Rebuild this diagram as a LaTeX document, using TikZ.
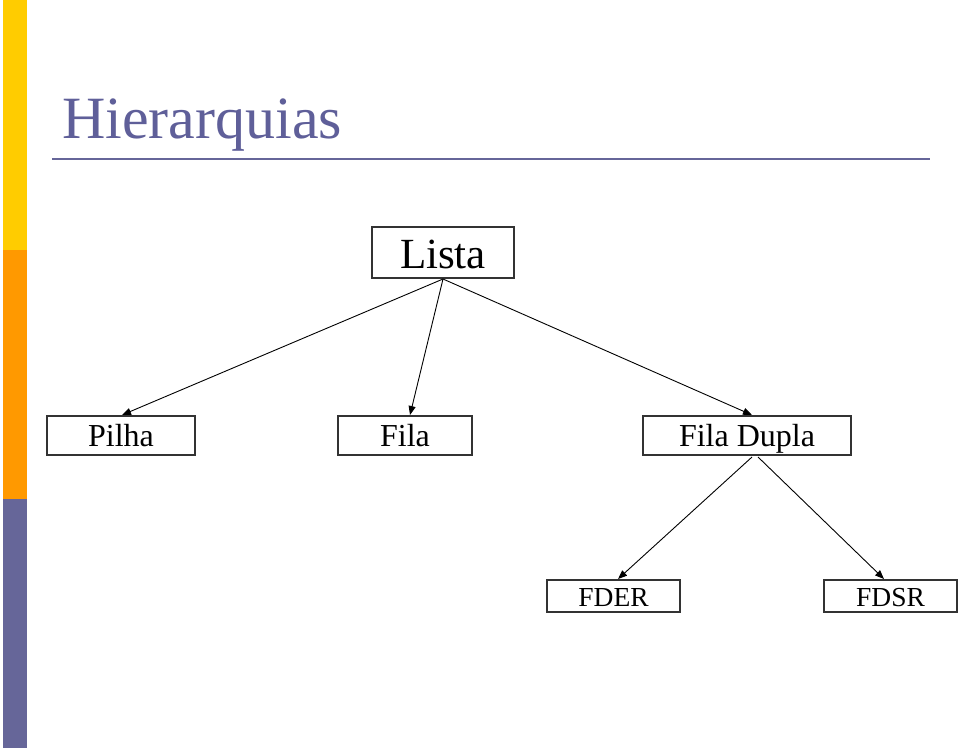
\documentclass[tikz,border=0pt]{standalone}
\usepackage{fontspec}
\setmainfont{Liberation Serif}
\usetikzlibrary{arrows.meta}
\definecolor{barYellow}{HTML}{FFCC00}
\definecolor{barOrange}{HTML}{FF9900}
\definecolor{barPurple}{HTML}{666699}
\definecolor{titleBlue}{HTML}{5F5F99}
\tikzset{
  box/.style={draw=black!80, line width=1.2pt, inner sep=0pt, anchor=center, text depth=0pt},
  conn/.style={draw=black, line width=0.9pt, -{Triangle[length=9pt,width=7pt]}},
}
\begin{document}
\begin{tikzpicture}[x=1pt,y=-1pt]
\useasboundingbox (0,0) rectangle (960,748);
\fill[white] (0,0) rectangle (960,748);
% side bar
\fill[barYellow] (3,0) rectangle (27,250);
\fill[barOrange] (3,250) rectangle (27,499);
\fill[barPurple] (3,499) rectangle (27,748);
% title
\node[anchor=base west, inner sep=0pt, text=titleBlue, font=\fontsize{60}{60}\selectfont] (title) at (62,138) {Hierarquias};
\draw[barPurple, line width=2pt] (52,159) -- (930,159);
% nodes
\node[box, minimum width=142pt, minimum height=51pt, text height=31pt, font=\fontsize{43}{43}\selectfont] (lista) at (443,252.5) {Lista};
\node[box, minimum width=148pt, minimum height=39pt, text height=22.4pt, font=\fontsize{32}{32}\selectfont] (pilha) at (121,435.5) {Pilha};
\node[box, minimum width=134pt, minimum height=39pt, text height=22.4pt, font=\fontsize{32}{32}\selectfont] (fila) at (405,435.5) {Fila};
\node[box, minimum width=208pt, minimum height=39pt, text height=22.4pt, font=\fontsize{32}{32}\selectfont] (dupla) at (747,435.5) {Fila Dupla};
\node[box, minimum width=133pt, minimum height=32pt, text height=21.5pt, font=\fontsize{27.5}{27.5}\selectfont] (fder) at (613.5,596) {FDER};
\node[box, minimum width=133pt, minimum height=32pt, text height=21.5pt, font=\fontsize{27.5}{27.5}\selectfont] (fdsr) at (890.5,596) {FDSR};
% connector endpoints
\coordinate (ls) at (443,279);
\coordinate (pt) at (122,415);
\coordinate (ft) at (410,415);
\coordinate (dt) at (752,415);
\coordinate (ds1) at (752,457);
\coordinate (ds2) at (758,457);
\coordinate (fdert) at (618,579);
\coordinate (fdsrt) at (884,579);
\draw[conn] (ls) -- (pt);
\draw[conn] (ls) -- (ft);
\draw[conn] (ls) -- (dt);
\draw[conn] (ds1) -- (fdert);
\draw[conn] (ds2) -- (fdsrt);
\end{tikzpicture}
\end{document}
